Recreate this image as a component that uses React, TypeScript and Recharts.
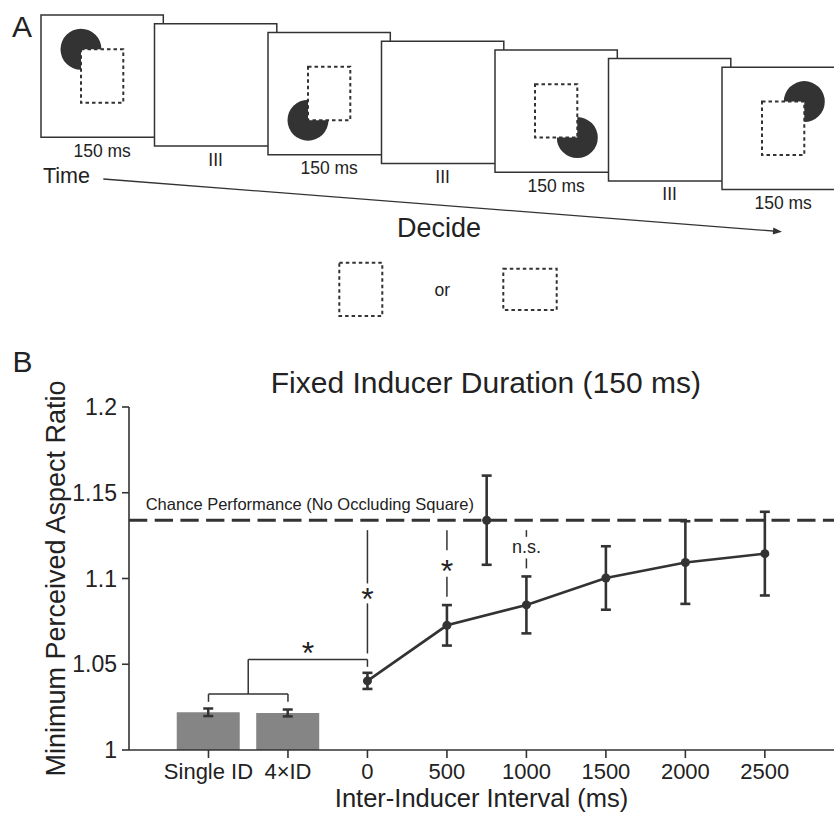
import {
  Bar,
  ComposedChart,
  ErrorBar,
  Line,
  Pie,
  PieChart,
  ReferenceArea,
  ReferenceDot,
  ReferenceLine,
  Scatter,
  XAxis,
  YAxis,
} from "recharts";

const INK = "#333333";
const TEXT = "#222222";
const BAR_FILL = "#858585";
const FONT = "'Liberation Sans', Arial, Helvetica, sans-serif";

// ---- panel B values ----
const tickValues = [-1000, -500, 0, 500, 1000, 1500, 2000, 2500];
const tickLabels = ["Single ID", "4×ID", "0", "500", "1000", "1500", "2000", "2500"];
const yTicks = [1, 1.05, 1.1, 1.15, 1.2];

const barConditions = [-1000, -500];
const barMeans = [1.022, 1.0216];
const barErrors = [0.0022, 0.002];

const intervals = [0, 500, 1000, 1500, 2000, 2500];
const intervalMeans = [1.0403, 1.0727, 1.0846, 1.1003, 1.1093, 1.1145];
const intervalErrors = [0.0047, 0.0118, 0.0166, 0.0185, 0.0241, 0.0244];

const chanceX = [750];
const chanceMeans = [1.134];
const chanceErrors = [0.026];
const chanceLevel = 1.134;

// ---- panel A content ----
const frameLabels = ["150 ms", "III", "150 ms", "III", "150 ms", "III", "150 ms"];
const inducerFrames = [0, 2, 4, 6];
const inducerCorners = ["topLeft", "bottomLeft", "bottomRight", "topRight"];

// frame layout (pixels, panel A uses an identity scale)
const FRAME_X0 = 41;
const FRAME_DX = 113.5;
const FRAME_Y0 = 15;
const FRAME_DY = 8.72;
const FRAME = 122.3;
const OCC_DX = 40;
const OCC_DY = 34.3;
const OCC_W = 42.3;
const OCC_H = 53.4;
const PAC_R = 20.5;

const frameLeft = (i: number) => FRAME_X0 + i * FRAME_DX;
const frameTop = (i: number) => FRAME_Y0 + i * FRAME_DY;

const cornerAngles: Record<string, [number, number]> = {
  topLeft: [0, 270],
  bottomLeft: [90, 360],
  bottomRight: [180, 450],
  topRight: [270, 540],
};

function cornerPoint(frame: number, corner: string) {
  const left = frameLeft(frame) + OCC_DX;
  const top = frameTop(frame) + OCC_DY;
  const x = corner.endsWith("Right") ? left + OCC_W : left;
  const y = corner.startsWith("bottom") ? top + OCC_H : top;
  return { x, y };
}

function note(
  key: string,
  x: number,
  y: number,
  text: string,
  size: number,
  anchor: "start" | "middle" | "end" = "middle",
  dy: string | number = 0,
) {
  return (
    <ReferenceDot
      key={key}
      x={x}
      y={y}
      r={0}
      ifOverflow="visible"
      shape={(p: any) => (
        <text
          x={p.cx}
          y={p.cy}
          dy={dy}
          textAnchor={anchor}
          fontSize={size}
          fill={TEXT}
          fontFamily={FONT}
        >
          {text}
        </text>
      )}
    />
  );
}

function seg(key: string, x1: number, y1: number, x2: number, y2: number, width = 1.5) {
  return (
    <ReferenceLine
      key={key}
      segment={[
        { x: x1, y: y1 },
        { x: x2, y: y2 },
      ]}
      stroke={INK}
      strokeWidth={width}
      ifOverflow="visible"
    />
  );
}

function PanelA() {
  const rows = frameLabels.map((label, i) => ({ x: frameLeft(i) + FRAME / 2, label }));
  const arrowFrom = { x: 103.3, y: 179 };
  const arrowTo = { x: 782, y: 231.7 };
  const arrowAngle = (Math.atan2(arrowTo.y - arrowFrom.y, arrowTo.x - arrowFrom.x) * 180) / Math.PI;

  return (
    <div style={{ position: "absolute", left: 0, top: 0 }}>
      <ComposedChart width={834} height={330} margin={{ top: 0, right: 0, bottom: 0, left: 0 }} data={rows}>
        <XAxis type="number" dataKey="x" domain={[0, 834]} hide allowDataOverflow />
        <YAxis type="number" domain={[0, 330]} reversed hide allowDataOverflow />
        {frameLabels.map((_, i) => (
          <ReferenceArea
            key={`frame-${i}`}
            x1={frameLeft(i)}
            x2={frameLeft(i) + FRAME}
            y1={frameTop(i)}
            y2={frameTop(i) + FRAME}
            fill="#ffffff"
            fillOpacity={1}
            stroke={INK}
            strokeWidth={1.5}
            ifOverflow="hidden"
          />
        ))}
        {inducerFrames.map((f) => (
          <ReferenceArea
            key={`occ-${f}`}
            x1={frameLeft(f) + OCC_DX}
            x2={frameLeft(f) + OCC_DX + OCC_W}
            y1={frameTop(f) + OCC_DY}
            y2={frameTop(f) + OCC_DY + OCC_H}
            fill="none"
            stroke={INK}
            strokeWidth={2}
            strokeDasharray="3.5 3"
          />
        ))}
        {frameLabels.map((label, i) =>
          note(`lab-${i}`, frameLeft(i) + FRAME / 2, frameTop(i) + FRAME + 19.5, label, 17.5),
        )}
        {note("A", 12, 36.7, "A", 30, "start")}
        {note("time", 43, 182.5, "Time", 21.5, "start")}
        {note("decide", 397, 236.5, "Decide", 27, "start")}
        {note("or", 442.3, 296, "or", 17.5)}
        <ReferenceArea x1={339.3} x2={382.3} y1={262.7} y2={316} fill="none" stroke={INK} strokeWidth={2} strokeDasharray="3.5 3" />
        <ReferenceArea x1={503.3} x2={556.7} y1={268.7} y2={310} fill="none" stroke={INK} strokeWidth={2} strokeDasharray="3.5 3" />
        <ReferenceLine
          segment={[arrowFrom, { x: arrowTo.x - 6, y: arrowTo.y - 0.46 }]}
          stroke={INK}
          strokeWidth={1.3}
        />
        <ReferenceDot
          x={arrowTo.x}
          y={arrowTo.y}
          r={0}
          shape={(p: any) => (
            <polygon
              points="0,0 -9,-3.5 -9,3.5"
              fill={INK}
              transform={`translate(${p.cx},${p.cy}) rotate(${arrowAngle})`}
            />
          )}
        />
      </ComposedChart>
      <div style={{ position: "absolute", left: 0, top: 0, pointerEvents: "none" }}>
        <PieChart width={834} height={330} margin={{ top: 0, right: 0, bottom: 0, left: 0 }}>
          {inducerFrames.map((f, i) => {
            const c = cornerPoint(f, inducerCorners[i]);
            const [start, end] = cornerAngles[inducerCorners[i]];
            return (
              <Pie
                key={`pac-${f}`}
                data={[{ name: "inducer", value: 1 }]}
                dataKey="value"
                cx={c.x}
                cy={c.y}
                innerRadius={0}
                outerRadius={PAC_R}
                startAngle={start}
                endAngle={end}
                fill={INK}
                stroke="none"
                isAnimationActive={false}
              />
            );
          })}
        </PieChart>
      </div>
    </div>
  );
}

function PanelB() {
  const rows = [
    ...barConditions.map((x, i) => ({ x, bar: barMeans[i], barErr: barErrors[i] })),
    ...intervals.map((x, i) => ({ x, mean: intervalMeans[i], err: intervalErrors[i] })),
  ];
  const chanceRows = chanceX.map((x, i) => ({ x, mean: chanceMeans[i], err: chanceErrors[i] }));
  const axisStyle = { stroke: INK, strokeWidth: 1.6 };

  return (
    <div style={{ position: "absolute", left: 0, top: 330 }}>
      <ComposedChart width={834} height={483} margin={{ top: 77, right: 0, bottom: 0, left: 0 }} data={rows}>
        <XAxis
          type="number"
          dataKey="x"
          domain={[-1500, 2935]}
          ticks={tickValues}
          tickFormatter={(v: number) => tickLabels[tickValues.indexOf(v)] ?? String(v)}
          height={63}
          tickSize={8}
          tickMargin={5}
          axisLine={axisStyle}
          tickLine={axisStyle}
          tick={{ fontSize: 22, fill: TEXT, fontFamily: FONT }}
          allowDataOverflow
          interval={0}
          label={{
            value: "Inter-Inducer Interval (ms)",
            position: "insideBottom",
            offset: 6,
            style: { fontSize: 25.5, fill: TEXT, fontFamily: FONT },
          }}
        />
        {/* separate hidden axis so the 750 ms chance point does not shrink the bar band */}
        <XAxis xAxisId="chance" type="number" dataKey="x" domain={[-1500, 2935]} hide allowDataOverflow />
        <YAxis
          type="number"
          dataKey="mean"
          domain={[1, 1.2]}
          ticks={yTicks}
          width={129}
          tickSize={7}
          tickMargin={5}
          axisLine={axisStyle}
          tickLine={axisStyle}
          tick={{ fontSize: 23, fill: TEXT, fontFamily: FONT }}
          allowDataOverflow
          interval={0}
          label={{
            value: "Minimum Perceived Aspect Ratio",
            angle: -90,
            position: "insideLeft",
            offset: 55,
            style: { fontSize: 27, fill: TEXT, fontFamily: FONT, textAnchor: "middle" },
          }}
        />
        <ReferenceLine y={chanceLevel} stroke={INK} strokeWidth={3} strokeDasharray="18.3 7.4" />
        <Bar dataKey="bar" barSize={63} fill={BAR_FILL} isAnimationActive={false}>
          <ErrorBar dataKey="barErr" direction="y" width={5} stroke={INK} strokeWidth={2.5} />
        </Bar>
        <Line
          dataKey="mean"
          stroke={INK}
          strokeWidth={2.6}
          dot={{ r: 4.5, fill: INK, stroke: INK, strokeWidth: 0 }}
          activeDot={false}
          isAnimationActive={false}
        >
          <ErrorBar dataKey="err" direction="y" width={5} stroke={INK} strokeWidth={2.6} />
        </Line>
        <Scatter xAxisId="chance" data={chanceRows} dataKey="mean" fill={INK} isAnimationActive={false}>
          <ErrorBar dataKey="err" direction="y" width={5} stroke={INK} strokeWidth={2.6} />
        </Scatter>

        {/* significance brackets */}
        {seg("b1", -1000, 1.0326, -500, 1.0326)}
        {seg("b2", -1000, 1.0326, -1000, 1.0281)}
        {seg("b3", -500, 1.0326, -500, 1.0281)}
        {seg("b4", -750, 1.0326, -750, 1.0528)}
        {seg("b5", -750, 1.0528, 0, 1.0528)}
        {seg("b6", 0, 1.0528, 0, 1.0485)}
        {seg("v0a", 0, 1.1282, 0, 1.0971)}
        {seg("v0b", 0, 1.0855, 0, 1.0563)}
        {seg("v5a", 500, 1.1282, 500, 1.1165)}
        {seg("v5b", 500, 1.101, 500, 1.0893)}
        {seg("v10a", 1000, 1.1282, 1000, 1.1243)}
        {seg("v10b", 1000, 1.1117, 1000, 1.1059)}

        {note("s1", -374, 1.0612, "*", 32, "middle", "0.58em")}
        {note("s2", 0, 1.0922, "*", 32, "middle", "0.58em")}
        {note("s3", 500, 1.1088, "*", 32, "middle", "0.58em")}
        {note("ns", 1000, 1.1175, "n.s.", 18, "middle", "0.27em")}
        {note("chance", -1395, 1.1398, "Chance Performance (No Occluding Square)", 16.5, "start")}
        {note("title", 744.6, 1.208, "Fixed Inducer Duration (150 ms)", 30)}
        {note("B", -2233, 1.2206, "B", 30, "start")}
      </ComposedChart>
    </div>
  );
}

export default function App() {
  return (
    <div
      style={{
        position: "absolute",
        left: 0,
        top: 0,
        width: 834,
        height: 813,
        background: "#ffffff",
        fontFamily: FONT,
        overflow: "hidden",
      }}
    >
      <PanelA />
      <PanelB />
    </div>
  );
}
